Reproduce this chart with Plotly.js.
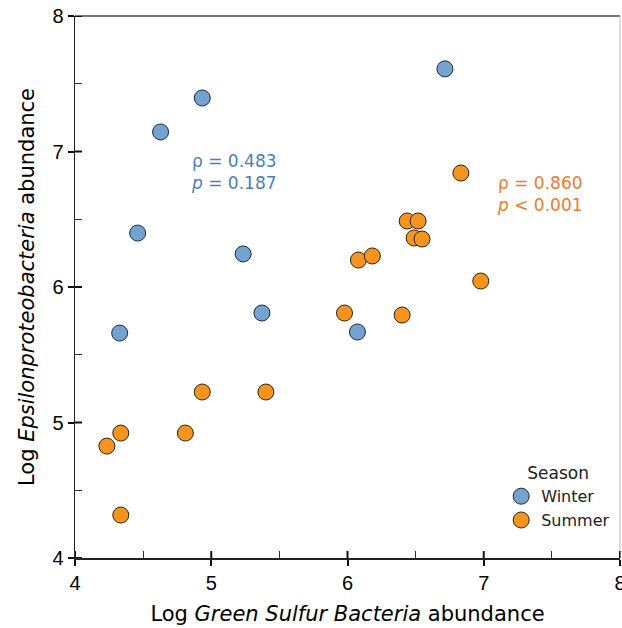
<!DOCTYPE html>
<html>
<head>
<meta charset="utf-8">
<script src="https://cdn.plot.ly/plotly-3.0.1.min.js"></script>
<style>html,body{margin:0;padding:0;background:#fff;}#chart{width:622px;height:628px;}</style>
</head>
<body>
<div id="chart"></div>
<script>
const winterX = [6.715, 4.934, 4.628, 4.460, 5.234, 5.372, 4.328, 6.073];
const winterY = [7.610, 7.395, 7.144, 6.398, 6.244, 5.808, 5.660, 5.668];
const summerX = [6.832, 6.438, 6.518, 6.489, 6.547, 6.080, 6.182, 6.978, 5.978, 6.401, 4.934, 5.401, 4.336, 4.810, 4.234, 4.336];
const summerY = [6.841, 6.487, 6.487, 6.362, 6.354, 6.199, 6.229, 6.044, 5.808, 5.793, 5.225, 5.225, 4.922, 4.922, 4.826, 4.317];
const seriesNames = ["Winter", "Summer"];
const winterStats = ["ρ = 0.483", "<i>p</i> = 0.187"];
const summerStats = ["ρ = 0.860", "<i>p</i> < 0.001"];
const tickVals = [4, 5, 6, 7, 8];

const FONT = "Arial, 'Liberation Sans', sans-serif";
const WIDE = "'DejaVu Sans', Verdana, sans-serif";
const traces = [
  {x: winterX, y: winterY, name: seriesNames[0], type: "scatter", mode: "markers",
   marker: {size: 16, color: "#74a3cf", line: {color: "#1f2a3a", width: 1}}},
  {x: summerX, y: summerY, name: seriesNames[1], type: "scatter", mode: "markers",
   marker: {size: 16, color: "#f7941d", line: {color: "#2b2412", width: 1}}}
];
const axisCommon = {
  range: [4, 8], tickvals: tickVals, showgrid: false, zeroline: false,
  showline: true, linecolor: "#222", linewidth: 1.5,
  ticks: "outside", ticklen: 6, tickwidth: 2, tickcolor: "#111",
  ticklabeloverflow: "allow",
  minor: {dtick: 0.5, ticks: "inside", ticklen: 7, tickwidth: 1.2, tickcolor: "#333", showgrid: false},
  tickfont: {family: FONT, size: 20, color: "#000"}
};
// inside half of the crossing major ticks, anchored at the tick values
const innerTicks = [];
tickVals.forEach(v => {
  innerTicks.push({type: "line", xref: "x", yref: "paper", x0: v, x1: v, ysizemode: "pixel", yanchor: 0, y0: 0, y1: 7,
    line: {color: "#111", width: 2}});
  innerTicks.push({type: "line", yref: "y", xref: "paper", y0: v, y1: v, xsizemode: "pixel", xanchor: 0, x0: 0, x1: 7,
    line: {color: "#111", width: 2}});
});
const layout = {
  width: 622, height: 628,
  margin: {l: 75, r: 2, t: 16, b: 70},
  paper_bgcolor: "#fff", plot_bgcolor: "#fff",
  showlegend: true,
  legend: {x: 0.782, y: 0.186, xanchor: "left", yanchor: "top",
    bgcolor: "rgba(0,0,0,0)", font: {family: WIDE, size: 16, color: "#222"},
    title: {text: "Season", side: "top center", font: {family: WIDE, size: 17, color: "#222"}},
    itemsizing: "trace", tracegroupgap: 0},
  xaxis: Object.assign({}, axisCommon, {
    title: {text: "Log <i>Green Sulfur Bacteria</i> abundance", font: {family: WIDE, size: 21, color: "#000"}, standoff: 14}
  }),
  yaxis: Object.assign({}, axisCommon, {
    title: {text: "Log <i>Epsilonproteobacteria</i> abundance", font: {family: WIDE, size: 21, color: "#000"}, standoff: 12}
  }),
  shapes: [
    {type: "line", xref: "paper", yref: "paper", x0: 0, x1: 1, y0: 1, y1: 1, line: {color: "#777", width: 2}},
    {type: "line", xref: "paper", yref: "paper", x0: 1, x1: 1, y0: 0, y1: 1, line: {color: "#bbb", width: 1}}
  ].concat(innerTicks),
  annotations: [
    {xref: "x", yref: "y", x: 4.84, y: 6.85, xanchor: "left", yanchor: "middle", align: "left", showarrow: false,
     text: winterStats.join("<br>"), font: {family: WIDE, size: 17, color: "#4a7fb8"}},
    {xref: "x", yref: "y", x: 7.08, y: 6.69, xanchor: "left", yanchor: "middle", align: "left", showarrow: false,
     text: summerStats.join("<br>"), font: {family: WIDE, size: 17, color: "#ee7b2a"}}
  ]
};
Plotly.newPlot("chart", traces, layout, {displayModeBar: false, staticPlot: true});
</script>
</body>
</html>
